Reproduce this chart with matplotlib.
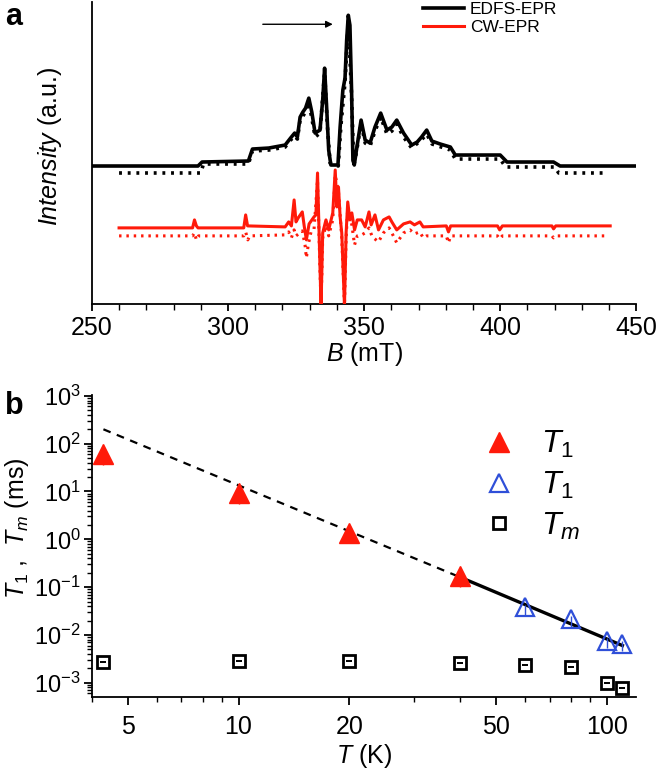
import numpy as np
import matplotlib
matplotlib.use("Agg")
import matplotlib.pyplot as plt
from matplotlib.ticker import MultipleLocator, LogLocator, NullFormatter, FixedLocator, FixedFormatter

plt.rcParams['font.family'] = ['Liberation Sans', 'DejaVu Sans']
plt.rcParams['mathtext.fontset'] = 'custom'
plt.rcParams['mathtext.rm'] = 'Liberation Sans'
plt.rcParams['mathtext.it'] = 'Liberation Sans:italic'
plt.rcParams['mathtext.bf'] = 'Liberation Sans:bold'

# ---- panel a: EDFS-EPR (absorption) and CW-EPR (derivative), exp + sim ----
edfs_B = [250, 289, 290.5, 307.5, 309, 315, 321, 323, 324.5, 325.5, 326.5, 327.5, 328.5,
          329.7, 330.8, 332, 333.8, 334.8, 335.5, 336.3, 337, 337.8, 340.4, 341.2, 342.2,
          343, 343.6, 344.2, 344.8, 345.4, 345.9, 346.4, 347.2, 348.9, 350.4, 352.2, 354,
          356.1, 358.4, 360.2, 362, 364.5, 367.5, 369.5, 371.1, 373, 374.9, 378, 381.7,
          383.5, 400, 402.5, 419.6, 422, 450]
edfs_I = [1.38, 1.38, 1.42, 1.43, 1.55, 1.56, 1.59, 1.66, 1.71, 1.67, 1.87, 1.92, 1.96,
          2.06, 1.92, 1.71, 1.74, 2.04, 2.36, 1.94, 1.54, 1.39, 1.39, 1.77, 2.14,
          2.26, 2.64, 2.89, 2.79, 2.14, 1.44, 1.39, 1.54, 1.84, 1.64, 1.61, 1.77,
          1.91, 1.74, 1.77, 1.84, 1.71, 1.59, 1.62, 1.67, 1.74, 1.63, 1.60, 1.57,
          1.49, 1.49, 1.42, 1.42, 1.38, 1.38]

edfs_sim_B = [260, 290, 291, 307.5, 309, 315, 321, 323, 324.5, 325.5, 326.5, 328.5, 329.7,
              330.8, 332, 333.8, 335.5, 336.5, 337.5, 340.5, 341.5, 343, 344.2, 345.4,
              346.2, 347.2, 348.9, 350.4, 352.2, 354, 356.1, 358.4, 360.2, 362, 364.5,
              367.5, 371, 373, 375, 381.7, 383.5, 400, 402, 420, 421.5, 438]
edfs_sim_I = [1.31, 1.31, 1.40, 1.40, 1.53, 1.54, 1.57, 1.64, 1.68, 1.65, 1.84, 1.92, 2.02,
              1.86, 1.67, 1.71, 2.32, 1.79, 1.41, 1.38, 1.79, 2.22, 2.84, 2.09,
              1.38, 1.52, 1.81, 1.61, 1.58, 1.73, 1.87, 1.70, 1.73, 1.80, 1.67,
              1.56, 1.64, 1.70, 1.60, 1.54, 1.45, 1.45, 1.37, 1.37, 1.31, 1.31]

cw_B = [260, 287, 287.7, 288.4, 289, 305.8, 306.5, 307.2, 321, 322.3, 323.3, 324.3, 325,
        325.8, 327.3, 328, 328.8, 329.8, 331.6, 332.3, 332.9, 333.8, 334.2, 334.8, 336,
        337, 338.5, 339.4, 340.0, 340.6, 341.2, 341.8, 342.8, 343.4, 344, 344.8, 345.5,
        346.5, 347.5, 349.1, 350.4, 351.8, 352.6, 354, 355.3, 357.1, 359.2, 360.2, 362,
        364.5, 366.9, 368.5, 370.5, 371.7, 380.2, 381, 381.8, 399, 399.8, 400.8, 419,
        419.6, 420.4, 440.4]
cw_I = [0.76, 0.76, 0.84, 0.78, 0.76, 0.76, 0.89, 0.78, 0.77, 0.82, 0.78, 1.04, 0.82,
        0.86, 0.92, 0.78, 0.64, 0.80, 0.87, 0.89, 1.31, 0.37, -0.02, 0.71, 0.84,
        0.74, 0.91, 1.34, 0.97, 1.17, 0.87, 0.71, -0.02, 0.71, 1.02, 0.84, 0.91,
        0.74, 0.84, 0.84, 0.77, 0.92, 0.79, 0.89, 0.74, 0.84, 0.87, 0.82, 0.74,
        0.80, 0.82, 0.79, 0.82, 0.77, 0.78, 0.72, 0.78, 0.78, 0.74, 0.78, 0.78,
        0.75, 0.78, 0.78]

cw_sim_B = [260, 287, 287.7, 288.4, 289.2, 305.8, 306.5, 307.3, 308, 321, 322.3, 323.3,
            324.3, 325, 327.3, 328.3, 328.8, 329.5, 330.5, 331.6, 332.9, 333.8, 334.2,
            334.8, 336, 337, 338.5, 339.4, 340.6, 341.8, 342.8, 343.4, 344, 345.5, 346.5,
            347.5, 349.1, 350.4, 351.8, 353, 355.3, 357.1, 359.2, 360.2, 362, 364.5,
            366.9, 368.5, 370.5, 371.7, 373, 380.2, 381, 381.8, 399, 399.8, 400.8, 419,
            419.6, 420.4, 439.4]
cw_sim_I = [0.68, 0.68, 0.71, 0.64, 0.68, 0.68, 0.72, 0.64, 0.68, 0.69, 0.72, 0.66,
            0.74, 0.68, 0.73, 0.59, 0.46, 0.59, 0.72, 0.74, 1.24, 0.34, -0.02,
            0.66, 0.78, 0.68, 0.84, 1.29, 1.12, 0.66, -0.02, 0.66, 0.96, 0.79, 0.59,
            0.68, 0.69, 0.71, 0.76, 0.67, 0.62, 0.71, 0.76, 0.71, 0.61, 0.71,
            0.74, 0.70, 0.72, 0.66, 0.68, 0.68, 0.61, 0.68, 0.68, 0.65, 0.68, 0.68,
            0.66, 0.68, 0.68]

arrow_B = [312.8, 338.5]
arrow_I = 2.80

# ---- panel b: relaxation times vs temperature ----
T1_red_T = [4.3, 10, 20, 40]
T1_red = [60, 9.4, 1.38, 0.17]
T1_red_lo = [25, 3.8, 0.55, 0.07]
T1_red_hi = [5, 1.0, 0.15, 0.02]

T1_blue_T = [60, 80, 100, 110]
T1_blue = [0.038, 0.022, 0.0076, 0.0065]
T1_blue_lo = [0.012, 0.007, 0.0022, 0.0018]
T1_blue_hi = [0.004, 0.003, 0.001, 0.001]

Tm_T = [4.3, 10, 20, 40, 60, 80, 100, 110]
Tm = [0.0027, 0.0028, 0.0028, 0.0026, 0.0024, 0.0021, 0.00100, 0.00078]

fit_low_T = [4.3, 40]
fit_low = [200, 0.16]
fit_high_T = [40, 110]
fit_high = [0.16, 0.006]

x_ticks_b = [5, 10, 20, 50, 100]
y_exps_b = [-3, -2, -1, 0, 1, 2, 3]

fig = plt.figure(figsize=(6.56, 7.69), dpi=100)

# ================= panel a =================
ax1 = fig.add_axes([0.140, 0.605, 0.830, 0.392])
ax1.plot(edfs_sim_B, edfs_sim_I, color='black', lw=2.6, ls=(0, (0.8, 1.6)), zorder=2)
ax1.plot(edfs_B, edfs_I, color='black', lw=2.6, zorder=3, label='EDFS-EPR')
ax1.plot(cw_sim_B, cw_sim_I, color='#ff1a0a', lw=2.2, ls=(0, (0.8, 1.6)), zorder=2)
ax1.plot(cw_B, cw_I, color='#ff1a0a', lw=2.2, zorder=3, label='CW-EPR')

ax1.annotate('', xy=(arrow_B[1], arrow_I), xytext=(arrow_B[0], arrow_I),
             arrowprops=dict(arrowstyle='-|>', color='black', lw=1.0,
                             mutation_scale=10, shrinkA=0, shrinkB=0))

ax1.set_xlim(250, 450)
ax1.set_ylim(0, 3.02)
ax1.xaxis.set_major_locator(MultipleLocator(50))
ax1.xaxis.set_minor_locator(MultipleLocator(10))
ax1.set_yticks([])
for s in ['top', 'right']:
    ax1.spines[s].set_visible(False)
for s in ['left', 'bottom']:
    ax1.spines[s].set_linewidth(1.3)
ax1.tick_params(axis='x', which='major', direction='out', length=5, width=1.3,
                labelsize=18, pad=4)
ax1.tick_params(axis='x', which='minor', direction='out', length=4, width=1.0)
ax1.set_xlabel(r'$B$ (mT)', fontsize=18, labelpad=0)
ax1.set_ylabel(r'$Intensity$ (a.u.)', fontsize=18)
ax1.yaxis.set_label_coords(-0.051, 0.52)
ax1.legend(loc='upper left', bbox_to_anchor=(0.595, 1.025), frameon=False,
           fontsize=12.5, handlelength=2.4, handletextpad=0.3, labelspacing=0.15,
           borderaxespad=0)
fig.text(0.008, 0.997, 'a', fontsize=22, fontweight='bold', va='top', ha='left')

# ================= panel b =================
ax2 = fig.add_axes([0.140, 0.094, 0.830, 0.392])
ax2.set_xscale('log')
ax2.set_yscale('log')

ax2.plot(fit_low_T, fit_low, color='black', lw=1.6, ls=(0, (3.5, 3)), zorder=2)
ax2.plot(fit_high_T, fit_high, color='black', lw=2.4, zorder=2)

ax2.errorbar(T1_red_T, T1_red, yerr=[T1_red_lo, T1_red_hi], fmt='none',
             ecolor='#ff1a0a', elinewidth=1.0, capsize=0, zorder=3)
h1, = ax2.plot(T1_red_T, T1_red, ls='none', marker='^', ms=14, color='#ff1a0a',
               mec='#ff1a0a', zorder=4, label=r'$T_{\mathit{1}}$')

ax2.errorbar(T1_blue_T, T1_blue, yerr=[T1_blue_lo, T1_blue_hi], fmt='none',
             ecolor='#2f4fd8', elinewidth=1.0, capsize=0, zorder=3)
h2, = ax2.plot(T1_blue_T, T1_blue, ls='none', marker='^', ms=13, mfc='none',
               mec='#2f4fd8', mew=1.6, zorder=4, label=r'$T_{\mathit{1}}$')

h3, = ax2.plot(Tm_T, Tm, ls='none', marker='s', ms=9, mfc='none', mec='black',
               mew=2.0, zorder=4, label=r'$T_m$')
ax2.plot(Tm_T, Tm, ls='none', marker='_', ms=5, color='black', mew=1.4, zorder=5)

ax2.set_xlim(4, 120)
ax2.set_ylim(5.1e-4, 1.03e3)
ax2.xaxis.set_major_locator(FixedLocator(x_ticks_b))
ax2.xaxis.set_major_formatter(FixedFormatter([str(v) for v in x_ticks_b]))
ax2.xaxis.set_minor_locator(LogLocator(base=10, subs=np.arange(1, 10), numticks=20))
ax2.xaxis.set_minor_formatter(NullFormatter())
ax2.yaxis.set_major_locator(FixedLocator([10.0 ** e for e in y_exps_b]))
ax2.yaxis.set_major_formatter(FixedFormatter([r'$\mathdefault{10^{%d}}$' % e for e in y_exps_b]))
ax2.yaxis.set_minor_locator(LogLocator(base=10, subs=np.arange(2, 10), numticks=20))
ax2.yaxis.set_minor_formatter(NullFormatter())
for s in ['top', 'right']:
    ax2.spines[s].set_visible(False)
for s in ['left', 'bottom']:
    ax2.spines[s].set_linewidth(1.3)
ax2.tick_params(axis='both', which='major', direction='out', length=6, width=1.3,
                labelsize=18)
ax2.tick_params(axis='y', which='major', labelsize=17, pad=2)
ax2.tick_params(axis='both', which='minor', direction='out', length=3.5, width=1.0)
ax2.tick_params(axis='x', which='major', pad=7)
ax2.set_xlabel(r'$T$ (K)', fontsize=18, labelpad=2)
ax2.set_ylabel(r'$T_{\mathit{1}}$ ,  $T_m$ (ms)', fontsize=18)
ax2.yaxis.set_label_coords(-0.112, 0.56)

ax2.legend(handles=[h1, h2, h3], loc='upper left', bbox_to_anchor=(0.695, 0.93),
           frameon=False, fontsize=23, handlelength=1.0, handletextpad=0.8,
           labelspacing=0.3, borderaxespad=0)

fig.text(0.008, 0.492, 'b', fontsize=22, fontweight='bold', va='top', ha='left')

fig.savefig('out.png', dpi=100)
